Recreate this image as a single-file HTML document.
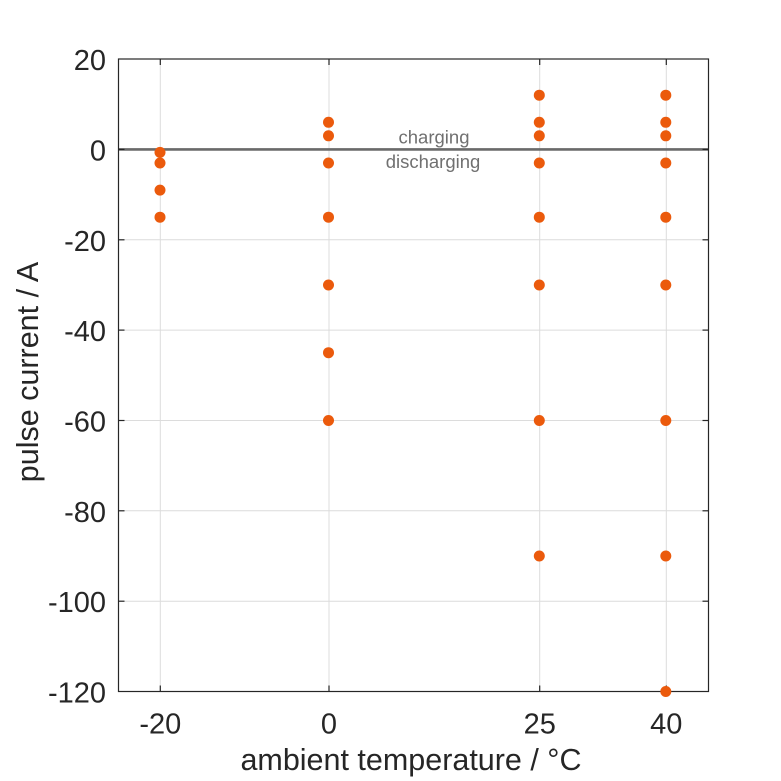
<!DOCTYPE html>
<html>
<head>
<meta charset="utf-8">
<style>
html,body{margin:0;padding:0;background:#fff;}
svg{display:block;}
text{font-family:"Liberation Sans",Arial,sans-serif;}
</style>
</head>
<body>
<svg width="781" height="781" viewBox="0 0 781 781" xmlns="http://www.w3.org/2000/svg">
<rect x="0" y="0" width="781" height="781" fill="#ffffff"/>
<!-- grid -->
<g stroke="#dcdcdc" stroke-width="1">
  <line x1="160.3" y1="59" x2="160.3" y2="691.5"/>
  <line x1="329" y1="59" x2="329" y2="691.5"/>
  <line x1="539.7" y1="59" x2="539.7" y2="691.5"/>
  <line x1="666.3" y1="59" x2="666.3" y2="691.5"/>
  <line x1="118.5" y1="239.8" x2="708.5" y2="239.8"/>
  <line x1="118.5" y1="330.1" x2="708.5" y2="330.1"/>
  <line x1="118.5" y1="420.5" x2="708.5" y2="420.5"/>
  <line x1="118.5" y1="510.8" x2="708.5" y2="510.8"/>
  <line x1="118.5" y1="601.2" x2="708.5" y2="601.2"/>
</g>
<!-- zero line -->
<line x1="118.5" y1="149.4" x2="708.5" y2="149.4" stroke="#6a6a6a" stroke-width="2.6"/>
<!-- annotations -->
<text x="434" y="143.5" font-size="18.5" fill="#707070" text-anchor="middle">charging</text>
<text x="433" y="168" font-size="18.5" fill="#707070" text-anchor="middle">discharging</text>
<!-- axes box -->
<rect x="118.5" y="59" width="590" height="632.5" fill="none" stroke="#262626" stroke-width="1.2"/>
<!-- ticks -->
<g stroke="#262626" stroke-width="1.2">
  <line x1="160.3" y1="691.5" x2="160.3" y2="685.5"/>
  <line x1="329" y1="691.5" x2="329" y2="685.5"/>
  <line x1="539.7" y1="691.5" x2="539.7" y2="685.5"/>
  <line x1="666.3" y1="691.5" x2="666.3" y2="685.5"/>
  <line x1="160.3" y1="59" x2="160.3" y2="65"/>
  <line x1="329" y1="59" x2="329" y2="65"/>
  <line x1="539.7" y1="59" x2="539.7" y2="65"/>
  <line x1="666.3" y1="59" x2="666.3" y2="65"/>
  <line x1="118.5" y1="149.4" x2="124.5" y2="149.4"/>
  <line x1="118.5" y1="239.8" x2="124.5" y2="239.8"/>
  <line x1="118.5" y1="330.1" x2="124.5" y2="330.1"/>
  <line x1="118.5" y1="420.5" x2="124.5" y2="420.5"/>
  <line x1="118.5" y1="510.8" x2="124.5" y2="510.8"/>
  <line x1="118.5" y1="601.2" x2="124.5" y2="601.2"/>
  <line x1="708.5" y1="149.4" x2="702.5" y2="149.4"/>
  <line x1="708.5" y1="239.8" x2="702.5" y2="239.8"/>
  <line x1="708.5" y1="330.1" x2="702.5" y2="330.1"/>
  <line x1="708.5" y1="420.5" x2="702.5" y2="420.5"/>
  <line x1="708.5" y1="510.8" x2="702.5" y2="510.8"/>
  <line x1="708.5" y1="601.2" x2="702.5" y2="601.2"/>
</g>
<!-- data points -->
<g fill="#eb5a0c">
  <circle cx="160" cy="152.4" r="5.5"/>
  <circle cx="160" cy="163.0" r="5.5"/>
  <circle cx="160" cy="190.1" r="5.5"/>
  <circle cx="160" cy="217.2" r="5.5"/>

  <circle cx="328.5" cy="122.3" r="5.5"/>
  <circle cx="328.5" cy="135.8" r="5.5"/>
  <circle cx="328.5" cy="163.0" r="5.5"/>
  <circle cx="328.5" cy="217.2" r="5.5"/>
  <circle cx="328.5" cy="285.0" r="5.5"/>
  <circle cx="328.5" cy="352.7" r="5.5"/>
  <circle cx="328.5" cy="420.5" r="5.5"/>

  <circle cx="539.3" cy="95.2" r="5.5"/>
  <circle cx="539.3" cy="122.3" r="5.5"/>
  <circle cx="539.3" cy="135.8" r="5.5"/>
  <circle cx="539.3" cy="163.0" r="5.5"/>
  <circle cx="539.3" cy="217.2" r="5.5"/>
  <circle cx="539.3" cy="285.0" r="5.5"/>
  <circle cx="539.3" cy="420.5" r="5.5"/>
  <circle cx="539.3" cy="556.0" r="5.5"/>

  <circle cx="665.8" cy="95.2" r="5.5"/>
  <circle cx="665.8" cy="122.3" r="5.5"/>
  <circle cx="665.8" cy="135.8" r="5.5"/>
  <circle cx="665.8" cy="163.0" r="5.5"/>
  <circle cx="665.8" cy="217.2" r="5.5"/>
  <circle cx="665.8" cy="285.0" r="5.5"/>
  <circle cx="665.8" cy="420.5" r="5.5"/>
  <circle cx="665.8" cy="556.0" r="5.5"/>
  <circle cx="665.8" cy="691.5" r="5.5"/>
</g>
<!-- y tick labels -->
<g font-size="29" fill="#262626" text-anchor="end">
  <text x="106" y="70">20</text>
  <text x="106" y="160.4">0</text>
  <text x="106" y="250.8">-20</text>
  <text x="106" y="341.1">-40</text>
  <text x="106" y="431.5">-60</text>
  <text x="106" y="521.8">-80</text>
  <text x="106" y="612.2">-100</text>
  <text x="106" y="702.5">-120</text>
</g>
<!-- x tick labels -->
<g font-size="29" fill="#262626" text-anchor="middle">
  <text x="160.3" y="733.5">-20</text>
  <text x="329" y="733.5">0</text>
  <text x="539.7" y="733.5">25</text>
  <text x="666.3" y="733.5">40</text>
</g>
<!-- axis labels -->
<text x="411" y="770" font-size="30.5" fill="#262626" text-anchor="middle">ambient temperature / °C</text>
<text x="0" y="0" font-size="30.5" fill="#262626" text-anchor="middle" transform="translate(38,372) rotate(-90)">pulse current / A</text>
</svg>
</body>
</html>
